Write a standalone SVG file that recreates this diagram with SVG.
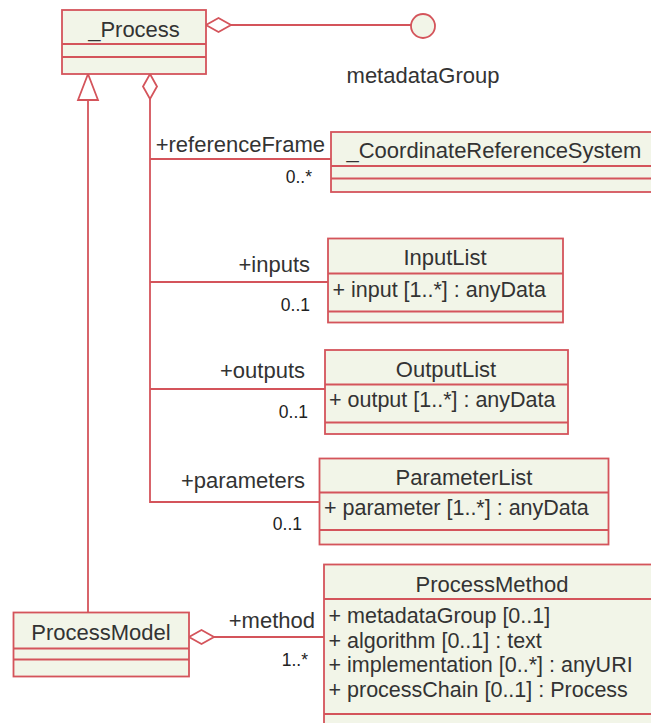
<svg xmlns="http://www.w3.org/2000/svg" width="651" height="723" viewBox="0 0 651 723">
  <style>
    .box { fill: #f2f5e8; stroke: #d4545b; stroke-width: 1.8; }
    .sep { stroke: #d4545b; stroke-width: 1.8; fill: none; }
    .edge { stroke: #d4545b; stroke-width: 1.8; fill: none; }
    .hollow { fill: #ffffff; stroke: #d4545b; stroke-width: 1.8; }
    text { font-family: "Liberation Sans", Arial, sans-serif; fill: #333333; }
    .name { font-size: 22px; text-anchor: middle; }
    .attr { font-size: 21.5px; }
    .role { font-size: 22px; text-anchor: end; }
    .mult { font-size: 17.5px; text-anchor: end; fill: #222222; }
  </style>

  <!-- connectors -->
  <g id="connectors">
    <!-- _Process aggregates metadataGroup (interface lollipop) -->
    <line class="edge" x1="231" y1="25" x2="411" y2="25"/>
    <polygon class="hollow" points="206,25 218.5,18 231,25 218.5,32"/>
    <circle class="box" cx="423" cy="26" r="12"/>

    <!-- generalization ProcessModel -> _Process -->
    <line class="edge" x1="88" y1="100" x2="88" y2="612"/>
    <polygon class="hollow" points="88,74 78,100 98,100"/>

    <!-- aggregation trunk from _Process -->
    <polyline class="edge" points="150,99 150,502 319,502"/>
    <line class="edge" x1="150" y1="159" x2="331" y2="159"/>
    <line class="edge" x1="150" y1="282" x2="328" y2="282"/>
    <line class="edge" x1="150" y1="389" x2="325" y2="389"/>
    <polygon class="hollow" points="150,74 157,86.5 150,99 143,86.5"/>

    <!-- ProcessModel aggregates ProcessMethod -->
    <line class="edge" x1="214" y1="637" x2="324" y2="637"/>
    <polygon class="hollow" points="189,637 201.5,630 214,637 201.5,644"/>

    <!-- role names and multiplicities -->
    <text x="423" y="83" style="font-size:22px;text-anchor:middle">metadataGroup</text>
    <text class="role" x="325" y="152">+referenceFrame</text>
    <text class="mult" x="312" y="183">0..*</text>
    <text class="role" x="310" y="272">+inputs</text>
    <text class="mult" x="310" y="311">0..1</text>
    <text class="role" x="305" y="378">+outputs</text>
    <text class="mult" x="308" y="418">0..1</text>
    <text class="role" x="305" y="488">+parameters</text>
    <text class="mult" x="302" y="530">0..1</text>
    <text class="role" x="315" y="628">+method</text>
    <text class="mult" x="308" y="666">1..*</text>
  </g>

  <!-- _Process -->
  <g id="node-process">
    <rect class="box" x="62" y="10" width="144" height="64"/>
    <line class="sep" x1="62" y1="44" x2="206" y2="44"/>
    <line class="sep" x1="62" y1="57" x2="206" y2="57"/>
    <text class="name" x="134" y="37">_Process</text>
  </g>

  <!-- _CoordinateReferenceSystem -->
  <g id="node-crs">
    <rect class="box" x="331" y="132" width="340" height="60"/>
    <line class="sep" x1="331" y1="166" x2="671" y2="166"/>
    <line class="sep" x1="331" y1="178.5" x2="671" y2="178.5"/>
    <text x="346.5" y="158" style="font-size:22px">_CoordinateReferenceSystem</text>
  </g>

  <!-- InputList -->
  <g id="node-inputlist">
    <rect class="box" x="328" y="238.5" width="235" height="84"/>
    <line class="sep" x1="328" y1="273.5" x2="563" y2="273.5"/>
    <line class="sep" x1="328" y1="311.5" x2="563" y2="311.5"/>
    <text class="name" x="445" y="265">InputList</text>
    <text class="attr" x="332.5" y="297">+ input [1..*] : anyData</text>
  </g>

  <!-- OutputList -->
  <g id="node-outputlist">
    <rect class="box" x="325" y="350" width="243" height="84"/>
    <line class="sep" x1="325" y1="384.5" x2="568" y2="384.5"/>
    <line class="sep" x1="325" y1="422.5" x2="568" y2="422.5"/>
    <text class="name" x="446" y="377">OutputList</text>
    <text class="attr" x="329" y="407">+ output [1..*] : anyData</text>
  </g>

  <!-- ParameterList -->
  <g id="node-parameterlist">
    <rect class="box" x="319.5" y="458.5" width="289" height="86"/>
    <line class="sep" x1="319.5" y1="492.5" x2="608.5" y2="492.5"/>
    <line class="sep" x1="319.5" y1="530" x2="608.5" y2="530"/>
    <text class="name" x="464" y="485">ParameterList</text>
    <text class="attr" x="324" y="515">+ parameter [1..*] : anyData</text>
  </g>

  <!-- ProcessModel -->
  <g id="node-processmodel">
    <rect class="box" x="13.5" y="612.5" width="175.5" height="64"/>
    <line class="sep" x1="13.5" y1="648.5" x2="189" y2="648.5"/>
    <line class="sep" x1="13.5" y1="659.5" x2="189" y2="659.5"/>
    <text class="name" x="101" y="640">ProcessModel</text>
  </g>

  <!-- ProcessMethod -->
  <g id="node-processmethod">
    <rect class="box" x="324" y="564.5" width="350" height="180"/>
    <line class="sep" x1="324" y1="599" x2="674" y2="599"/>
    <line class="sep" x1="324" y1="714" x2="674" y2="714"/>
    <text class="name" x="492" y="592">ProcessMethod</text>
    <text class="attr" x="328.5" y="623">+ metadataGroup [0..1]</text>
    <text class="attr" x="328.5" y="647.5">+ algorithm [0..1] : text</text>
    <text class="attr" x="328.5" y="672">+ implementation [0..*] : anyURI</text>
    <text class="attr" x="328.5" y="696.5">+ processChain [0..1] : Process</text>
  </g>
</svg>
